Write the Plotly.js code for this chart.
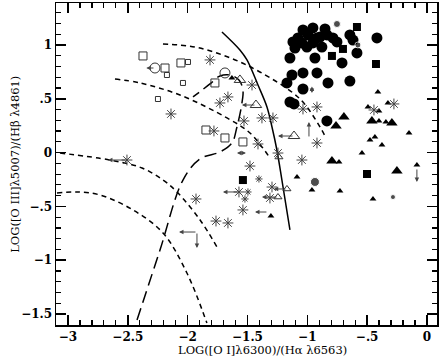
<!DOCTYPE html>
<html>
<head>
<meta charset="utf-8">
<script src="https://cdn.plot.ly/plotly-3.0.1.min.js"></script>
<style>html,body{margin:0;padding:0;background:#fff;}#chart{width:447px;height:363px;}</style>
</head>
<body>
<div id="chart"></div>
<script>
// ---------- model curves ----------
const curveA_x = [-2.206, -1.939, -1.663, -1.396, -1.061, -0.894, -0.844];
const curveA_y = [1.009, 0.981, 0.888, 0.749, 0.498, 0.238, 0.136];
const curveB_x = [-2.607, -2.398, -2.064, -1.671, -1.479, -1.312];
const curveB_y = [0.684, 0.647, 0.535, 0.322, 0.182, -0.050];
const curveC_x = [-3.067, -2.649, -2.381, -2.206, -2.089, -1.896, -1.755];
const curveC_y = [-0.004, -0.069, -0.143, -0.255, -0.366, -0.626, -0.877];
const curveD_x = [-3.092, -2.925, -2.733, -2.457, -2.206, -2.006, -1.839];
const curveD_y = [-0.375, -0.366, -0.394, -0.533, -0.747, -1.119, -1.584];
const longDash_x = [-2.423, -2.231, -2.039, -1.897, -1.730, -1.630, -1.588, -1.546, -1.538, -1.571, -1.646, -1.730, -1.813, -1.955];
const longDash_y = [-1.556, -0.905, -0.255, -0.059, 0.006, 0.089, 0.238, 0.461, 0.582, 0.675, 0.721, 0.712, 0.638, 0.517];
const solid_x = [-1.713, -1.563, -1.504, -1.412, -1.337, -1.295, -1.254, -1.212, -1.145];
const solid_y = [1.121, 0.954, 0.861, 0.628, 0.424, 0.238, 0.024, -0.255, -0.719];

// ---------- data points ----------
const bigCircle_x = [-0.953, -0.852, -1.036, -0.786, -1.078, -1.120, -0.994, -0.919, -0.878, -1.003, -1.103, -0.953, -1.045, -0.836, -0.644, -0.618, -0.418, -0.585, -0.710, -1.145, -0.936, -1.128, -1.036, -0.919, -1.170, -1.036, -0.827, -0.644, -1.145, -1.111, -0.836, -0.752, -0.894];
const bigCircle_y = [1.158, 1.149, 1.139, 1.065, 1.065, 1.028, 1.093, 1.065, 0.981, 0.981, 0.972, 1.019, 1.019, 1.093, 1.093, 1.046, 1.065, 0.926, 0.833, 0.879, 0.879, 0.721, 0.740, 0.740, 0.647, 0.591, 0.647, 0.665, 0.470, 0.452, 0.294, 1.028, 1.074];
const smallCircle_x = [-0.752, -0.577, -0.936, -0.284];
const smallCircle_y = [1.195, 1.000, -0.273, -0.413];
const smallCircle_s = [7, 6, 9, 5];
const filledSquare_x = [-0.585, -0.702, -0.794, -0.426, -0.501, -1.538];
const filledSquare_y = [1.167, 0.963, 0.898, 0.823, -0.199, -0.255];
const bigTri_x = [-0.694, -0.760, -0.460, -0.293, -0.794, -0.251];
const bigTri_y = [0.331, 0.247, 0.294, 0.275, -0.078, -0.171];
const smallTri_x = [-0.410, -0.493, -0.326, -0.401, -0.401, -0.343, -0.150, -0.476, -0.435, -0.376, -0.543, -0.735, -0.084, -0.727, -0.451, -0.961, -1.086, -1.304, -1.630];
const smallTri_y = [0.563, 0.424, 0.461, 0.387, 0.294, 0.284, 0.182, 0.117, 0.145, 0.071, -0.004, -0.087, -0.115, -0.357, -0.431, -0.348, -0.227, -0.589, 0.693];
const openSquare_x = [-2.373, -2.189, -2.056, -1.847, -1.688, -1.538, -1.772];
const openSquare_y = [0.898, 0.786, 0.833, 0.210, 0.136, 0.099, 0.647];
const openSquareSmall_x = [-2.173, -1.997, -2.039, -2.248];
const openSquareSmall_y = [0.721, 0.842, 0.647, 0.498];
const openCircle_x = [-2.273, -1.688];
const openCircle_y = [0.786, 0.740];
const openTri_x = [-1.429, -1.111, -1.563];
const openTri_y = [0.442, 0.154, 0.675];
const openTriSmall_x = [-1.237, -1.170, -1.245];
const openTriSmall_y = [-0.041, -0.338, -0.413];
const aster_x = [-1.813, -2.139, -1.780, -1.462, -1.663, -1.730, -1.529, -1.379, -1.287, -1.412, -1.479, -1.036, -0.919, -0.919, -1.045, -0.443, -0.276, -1.571, -1.295, -1.312, -1.538, -1.930, -1.763, -1.663, -2.507, -1.245];
const aster_y = [0.861, 0.359, 0.201, 0.628, 0.517, 0.461, 0.294, 0.322, 0.322, 0.080, -0.125, 0.405, 0.424, 0.089, -0.069, 0.396, 0.452, -0.366, -0.320, -0.422, -0.533, -0.431, -0.636, -0.654, -0.069, -0.004];
const asterSmall_x = [-1.404, -1.496, -1.521];
const asterSmall_y = [-0.245, -0.366, -0.431];

// ---------- limit arrows (tail -> head) ----------
const arrow_x0 = [-2.273, -2.507, -1.429, -1.111, -0.961, -0.986, -1.500, -1.922, -1.922, -1.571, -1.245, -1.329, -1.170, -0.084];
const arrow_y0 = [0.786, -0.069, 0.442, 0.154, 0.628, 0.136, -0.004, -0.738, -0.738, -0.366, -0.413, -0.552, -0.338, -0.143];
const arrow_x1 = [-2.345, -2.666, -1.546, -1.245, -0.961, -0.986, -1.588, -2.072, -1.922, -1.705, -1.379, -1.437, -1.280, -0.084];
const arrow_y1 = [0.786, -0.069, 0.442, 0.154, 0.554, 0.284, -0.004, -0.738, -0.887, -0.366, -0.413, -0.552, -0.338, -0.273];
const arrow_both = [false, false, false, false, true, false, true, false, false, false, false, false, false, false];

// ---------- axis ticks ----------
const xTickVals = [-3, -2.5, -2, -1.5, -1, -0.5, 0];
const xTickText = ['\u22123', '\u22122.5', '\u22122', '\u22121.5', '\u22121', '\u2212.5', '0'];
const yTickVals = [-1.5, -1, -0.5, 0, 0.5, 1];
const yTickText = ['\u22121.5', '\u22121', '\u2212.5', '0', '.5', '1'];
const minorStep = 0.1;
const xTitle = 'LOG([O I]\u03bb6300)/(H\u03b1 \u03bb6563)';
const yTitle = 'LOG([O III]\u03bb5007)/(H\u03b2 \u03bb4861)';

const xRange = [-3.10, 0.084];
const yRange = [-1.602, 1.390];

function minorVals(range) {
  const out = [];
  const start = Math.ceil(range[0] / minorStep);
  const end = Math.floor(range[1] / minorStep);
  for (let k = start; k <= end; k++) {
    if (k % 5 !== 0) out.push(+(k * minorStep).toFixed(2));
  }
  return out;
}

const serif = 'DejaVu Serif, Liberation Serif, serif';
const grey = '#444';

function curve(x, y, dash) {
  return {x: x, y: y, type: 'scatter', mode: 'lines', hoverinfo: 'skip',
    line: {color: '#000', width: 1.5, dash: dash, shape: 'spline', smoothing: 1}};
}
function pts(x, y, symbol, size, color, lw) {
  return {x: x, y: y, type: 'scatter', mode: 'markers', hoverinfo: 'skip',
    marker: {symbol: symbol, size: size, color: color, line: {color: color, width: lw || 0}}};
}

const traces = [
  curve(curveA_x, curveA_y, '5px,4px'),
  curve(curveB_x, curveB_y, '5px,4px'),
  curve(curveC_x, curveC_y, '5px,4px'),
  curve(curveD_x, curveD_y, '5px,4px'),
  curve(longDash_x, longDash_y, '12px,6px'),
  curve(solid_x, solid_y, 'solid'),
  pts(bigCircle_x, bigCircle_y, 'circle', 11, '#000'),
  {x: smallCircle_x, y: smallCircle_y, type: 'scatter', mode: 'markers', hoverinfo: 'skip',
    marker: {symbol: 'circle', size: smallCircle_s, color: '#000'}},
  pts(filledSquare_x, filledSquare_y, 'square', 8, '#000'),
  pts(bigTri_x, bigTri_y, 'triangle-up', 10, '#000'),
  pts(smallTri_x, smallTri_y, 'triangle-up', 6, '#000'),
  pts(openSquare_x, openSquare_y, 'square-open', 8, '#333', 1),
  pts(openSquareSmall_x, openSquareSmall_y, 'square-open', 5, '#333', 1),
  pts(openCircle_x, openCircle_y, 'circle-open', 10, '#333', 1),
  pts(openTri_x, openTri_y, 'triangle-up-open', 10, '#333', 1),
  pts(openTriSmall_x, openTriSmall_y, 'triangle-up-open', 7, '#333', 1),
  pts(aster_x, aster_y, 'asterisk-open', 9, grey, 1),
  pts(asterSmall_x, asterSmall_y, 'asterisk-open', 6, grey, 1)
];

const annotations = arrow_x0.map((x0, i) => ({
  x: arrow_x1[i], y: arrow_y1[i], ax: x0, ay: arrow_y0[i],
  xref: 'x', yref: 'y', axref: 'x', ayref: 'y',
  text: '', showarrow: true, arrowhead: 2, arrowsize: 0.9, arrowwidth: 1,
  arrowcolor: grey, arrowside: arrow_both[i] ? 'end+start' : 'end',
  standoff: 0, startstandoff: 0
}));
annotations.push({
  xref: 'paper', yref: 'paper', x: 0.543, y: -0.078, xanchor: 'center', yanchor: 'middle',
  text: xTitle, showarrow: false, font: {family: serif, size: 11.5, color: '#000'}
});
annotations.push({
  xref: 'paper', yref: 'paper', x: -0.108, y: 0.5, xanchor: 'center', yanchor: 'middle',
  textangle: -90, text: yTitle, showarrow: false, font: {family: serif, size: 11.5, color: '#000'}
});

const axisCommon = {
  showline: true, linecolor: '#000', linewidth: 1.5, mirror: 'allticks',
  ticks: 'inside', ticklen: 10, tickwidth: 1.5, tickcolor: '#000',
  showgrid: false, zeroline: false, tickmode: 'array',
  tickfont: {family: serif, size: 12, color: '#000', weight: 'bold'}
};
function minorSpec(range) {
  return {tickmode: 'array', tickvals: minorVals(range), ticks: 'inside', ticklen: 5,
    tickwidth: 1.2, tickcolor: '#000', showgrid: false};
}

const layout = {
  width: 447, height: 363,
  margin: {l: 56, r: 10, t: 3, b: 38},
  paper_bgcolor: '#fff', plot_bgcolor: '#fff',
  showlegend: false,
  xaxis: Object.assign({}, axisCommon, {range: xRange, tickvals: xTickVals, ticktext: xTickText, minor: minorSpec(xRange)}),
  yaxis: Object.assign({}, axisCommon, {range: yRange, tickvals: yTickVals, ticktext: yTickText, minor: minorSpec(yRange)}),
  annotations: annotations
};

Plotly.newPlot('chart', traces, layout, {staticPlot: true, displayModeBar: false});
</script>
</body>
</html>
